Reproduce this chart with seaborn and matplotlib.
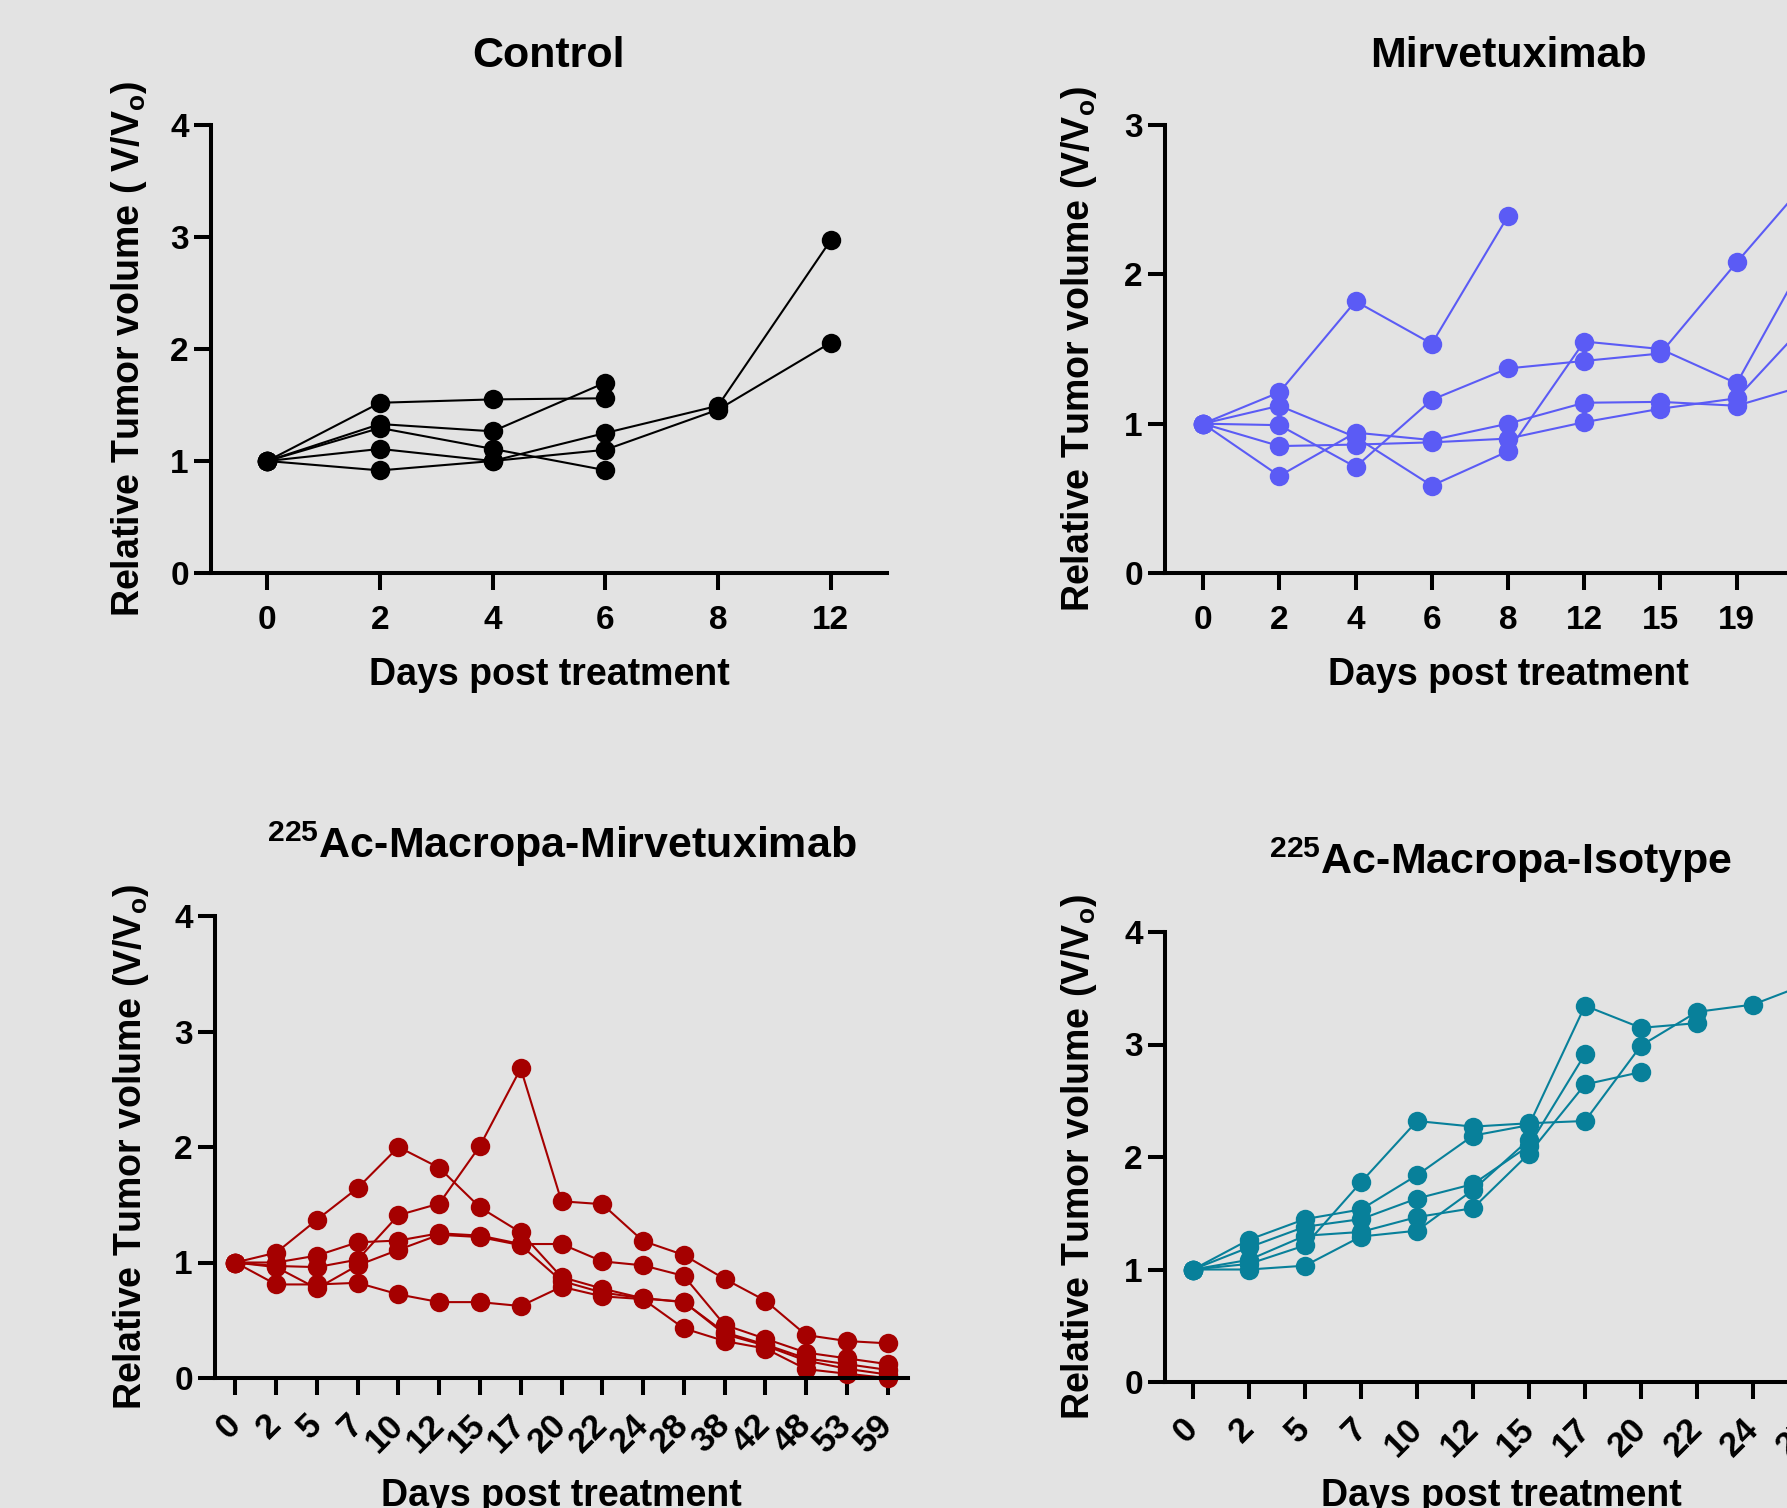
import numpy as np
import pandas as pd
import matplotlib
matplotlib.use("Agg")
import matplotlib.pyplot as plt
import seaborn as sns

nan = np.nan

# ---------------- data ----------------
control_days = ["0", "2", "4", "6", "8", "12"]
control_m1 = [1.0, 1.52, 1.55, 1.56, nan, nan]
control_m2 = [1.0, 1.33, 1.265, 1.70, nan, nan]
control_m3 = [1.0, 1.295, 1.108, 0.918, nan, nan]
control_m4 = [1.0, 1.108, 1.0, 1.10, 1.458, 2.056]
control_m5 = [1.0, 0.916, 1.0, 1.25, 1.493, 2.97]

mirv_days = ["0", "2", "4", "6", "8", "12", "15", "19", "22"]
mirv_m1 = [1.0, 1.21, 1.82, 1.535, 2.39, nan, nan, nan, nan]
mirv_m2 = [1.0, 0.99, 0.71, 1.16, 1.37, 1.42, 1.47, 2.08, 2.67]
mirv_m3 = [1.0, 1.12, 0.91, 0.585, 0.815, 1.55, 1.50, 1.27, 2.19]
mirv_m4 = [1.0, 0.85, 0.86, 0.875, 0.90, 1.01, 1.10, 1.17, 1.72]
mirv_m5 = [1.0, 0.65, 0.94, 0.89, 1.0, 1.14, 1.146, 1.12, 1.27]

acm_days = ["0", "2", "5", "7", "10", "12", "15", "17", "20", "22", "24",
            "28", "38", "42", "48", "53", "59"]
acm_m1 = [1.0, 1.085, 1.37, 1.645, 2.0, 1.82, 1.477, 1.26, 0.874, 0.774,
          0.69, 0.657, 0.395, 0.29, 0.17, 0.12, 0.07]
acm_m2 = [1.0, 0.97, 0.96, 1.025, 1.41, 1.51, 2.01, 2.68, 1.53, 1.505,
          1.186, 1.065, 0.858, 0.67, 0.372, 0.32, 0.30]
acm_m3 = [1.0, 1.0, 1.06, 1.175, 1.19, 1.253, 1.233, 1.16, 1.16, 1.01,
          0.975, 0.884, 0.46, 0.34, 0.22, 0.17, 0.12]
acm_m4 = [1.0, 0.81, 0.81, 0.824, 0.724, 0.657, 0.657, 0.623, 0.79, 0.707,
          0.683, 0.43, 0.32, 0.255, 0.077, 0.037, 0.0]
acm_m5 = [1.0, 0.96, 0.775, 0.975, 1.11, 1.24, 1.22, 1.15, 0.84, 0.74,
          0.69, 0.66, 0.38, 0.28, 0.15, 0.08, 0.03]

iso_days = ["0", "2", "5", "7", "10", "12", "15", "17", "20", "22", "24", "27"]
iso_m1 = [1.0, 1.05, 1.214, 1.776, 2.32, 2.27, 2.30, 2.32, 2.99, 3.29, 3.355, 3.545]
iso_m2 = [1.0, 1.265, 1.448, 1.534, 1.838, 2.19, 2.283, 3.345, 3.148, 3.19, nan, nan]
iso_m3 = [1.0, 1.197, 1.38, 1.448, 1.631, 1.759, 2.1, 2.914, nan, nan, nan, nan]
iso_m4 = [1.0, 1.086, 1.30, 1.334, 1.466, 1.545, 2.03, 2.645, 2.755, nan, nan, nan]
iso_m5 = [1.0, 1.0, 1.034, 1.293, 1.345, 1.707, 2.155, nan, nan, nan, nan, nan]

# ---------------- style ----------------
BG = "#E3E3E3"
sns.set_style("ticks")
plt.rcParams["font.family"] = ["Liberation Sans", "DejaVu Sans"]
plt.rcParams["font.weight"] = "bold"
plt.rcParams["text.color"] = "black"
plt.rcParams["axes.labelcolor"] = "black"
plt.rcParams["mathtext.fontset"] = "custom"
for k in ["rm", "it", "bf", "sf"]:
    plt.rcParams["mathtext." + k] = "Liberation Sans:bold"

W, H = 1787, 1508
fig = plt.figure(figsize=(W / 100, H / 100), dpi=100, facecolor=BG)


def long_df(days, series):
    rows = []
    for i, s in enumerate(series):
        for d, v in zip(days, s):
            rows.append({"day": d, "mouse": i, "val": v})
    df = pd.DataFrame(rows)
    df["pos"] = pd.Categorical(df["day"], categories=days).codes
    return df.dropna()


def panel(box, days, series, color, title, ylabel, ymax, xlabel_off,
          rotate, ylab_off):
    l, r, t, b = box
    w, h = r - l, b - t
    ax = fig.add_axes([l / W, 1 - b / H, w / W, h / H])
    ax.set_facecolor(BG)
    df = long_df(days, series)
    sns.lineplot(data=df, x="pos", y="val", units="mouse", estimator=None,
                 color=color, marker="o", markersize=14, markeredgewidth=0,
                 linewidth=1.5, ax=ax, legend=False, clip_on=False)
    ax.set_xlim(-0.5, len(days) - 0.5)
    ax.set_ylim(0, ymax)
    ax.set_yticks(range(0, ymax + 1))
    ax.set_xticks(range(len(days)))
    ax.tick_params(axis="both", length=12, width=2.9, labelsize=24,
                   color="black", labelcolor="black")
    if rotate:
        ax.set_xticklabels(days, rotation=45, ha="right", va="center",
                           rotation_mode="anchor")
        ax.tick_params(axis="x", pad=18, labelsize=25)
    else:
        ax.set_xticklabels(days)
        ax.tick_params(axis="x", pad=11)
    ax.tick_params(axis="y", pad=4)
    for s in ["top", "right"]:
        ax.spines[s].set_visible(False)
    for s in ["left", "bottom"]:
        ax.spines[s].set_linewidth(2.9)
        ax.spines[s].set_color("black")
    ax.set_xlabel("Days post treatment", fontsize=27, fontweight="bold",
                  color="black")
    ax.xaxis.set_label_coords(0.5, -xlabel_off / h)
    ax.xaxis.label.set_va("baseline")
    ax.set_ylabel(ylabel, fontsize=27, fontweight="bold", color="black")
    ax.yaxis.set_label_coords(-ylab_off / w, 0.5)
    ax.yaxis.label.set_va("center")
    ax.text(0.5, 1 + 58 / h, title, transform=ax.transAxes, ha="center",
            va="baseline", fontsize=31, fontweight="bold", color="black")
    return ax


panel((211, 887, 125, 573), control_days,
      [control_m1, control_m2, control_m3, control_m4, control_m5],
      "#000000", "Control", r"Relative Tumor volume ( V/V$_{o}$)", 4,
      112, False, 82)
panel((1165, 1851, 125, 573), mirv_days,
      [mirv_m1, mirv_m2, mirv_m3, mirv_m4, mirv_m5],
      "#5B5BF5", "Mirvetuximab", r"Relative Tumor volume (V/V$_{o}$)", 3,
      112, False, 86)
panel((215, 908, 916, 1378), acm_days,
      [acm_m1, acm_m2, acm_m3, acm_m4, acm_m5],
      "#A50000", r"$^{225}$Ac-Macropa-Mirvetuximab",
      r"Relative Tumor volume (V/V$_{o}$)", 4, 128, True, 84)
panel((1165, 1837, 932, 1382), iso_days,
      [iso_m1, iso_m2, iso_m3, iso_m4, iso_m5],
      "#08809A", r"$^{225}$Ac-Macropa-Isotype",
      r"Relative Tumor volume (V/V$_{o}$)", 4, 124, True, 86)

fig.savefig("out.png", dpi=100, facecolor=BG)
